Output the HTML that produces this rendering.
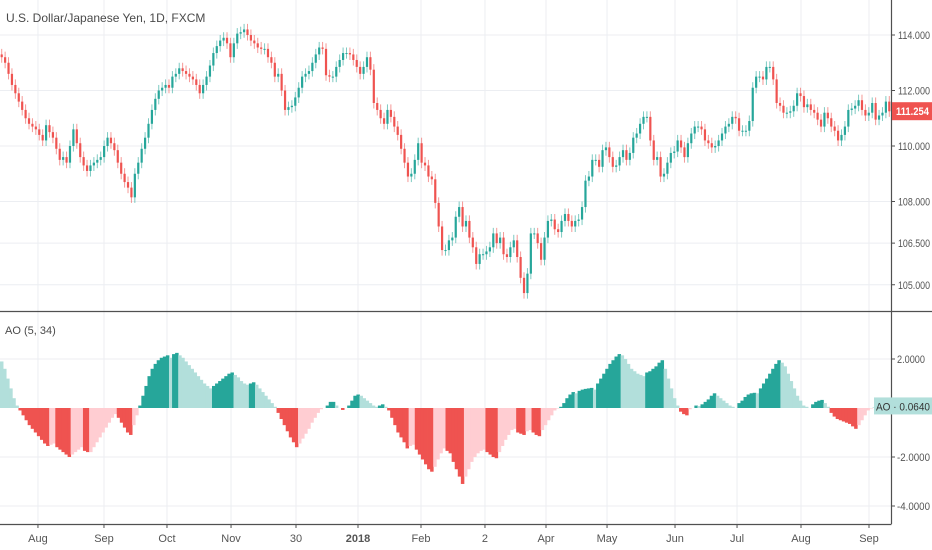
<!DOCTYPE html>
<html><head><meta charset="utf-8"><style>
html,body{margin:0;padding:0;background:#fff;width:932px;height:550px;overflow:hidden;font-family:"Liberation Sans",sans-serif}
svg{display:block}
text{font-family:"Liberation Sans",sans-serif}
</style></head><body>
<svg id="chart" width="932" height="550" viewBox="0 0 932 550" xmlns="http://www.w3.org/2000/svg">
<g id="grid"></g>
<g id="candles"></g>
<g id="ao"></g>
<g id="axes"></g>
<text x="6" y="22" font-size="12" fill="#4a4a4a">U.S. Dollar/Japanese Yen, 1D, FXCM</text>
<text x="5" y="334" font-size="11" fill="#4a4a4a">AO (5, 34)</text>
</svg>
<script>
const closes=[113.2,113.0,112.6,112.2,111.9,111.6,111.3,111.0,110.8,110.7,110.6,110.4,110.2,110.75,110.5,110.3,109.9,109.5,109.6,109.4,110.0,110.6,110.1,109.6,109.3,109.1,109.3,109.4,109.5,109.6,110.0,110.3,110.1,109.85,109.4,109.0,108.7,108.5,108.15,109.0,109.4,109.9,110.3,110.8,111.3,111.7,112.0,112.1,112.2,112.1,112.5,112.6,112.8,112.7,112.6,112.5,112.4,112.2,111.9,112.2,112.5,112.9,113.35,113.6,113.8,113.9,113.7,
113.2,113.7,114.05,114.1,114.2,114.0,113.8,113.7,113.55,113.5,113.5,113.2,113.0,112.5,112.6,112.0,111.3,111.4,111.45,111.75,112.1,112.5,112.6,112.7,113.0,113.3,113.55,113.5,112.55,112.5,112.5,112.85,113.1,113.35,113.35,113.3,113.1,112.85,112.6,112.85,113.2,112.75,111.55,111.3,111.0,110.8,111.3,111.05,110.7,110.4,109.9,109.4,108.9,109.0,109.5,110.1,109.4,109.3,108.9,108.8,107.95,
107.1,106.25,106.25,106.6,106.7,107.45,107.8,107.1,107.3,106.7,106.35,105.75,106.1,106.1,106.2,106.35,106.85,106.5,106.7,106.1,106.0,106.35,106.6,106.0,105.25,104.7,105.4,106.85,106.85,106.5,105.9,106.7,107.3,107.35,107.0,106.9,107.3,107.55,107.3,107.1,107.3,107.35,107.8,108.75,108.9,109.5,109.5,109.25,109.85,109.95,109.6,109.25,109.3,109.6,109.85,109.5,109.75,110.3,110.45,110.8,111.05,111.05,110.2,109.5,109.6,108.9,109.0,109.4,109.75,109.8,110.2,109.95,109.6,110.1,110.45,110.7,110.7,110.6,110.2,110.1,109.95,110.0,110.2,110.45,110.7,110.8,111.05,111.0,110.55,110.55,110.55,110.9,112.1,112.5,112.5,112.4,112.85,112.85,112.4,111.55,111.45,111.2,111.2,111.25,111.45,111.9,111.8,111.4,111.5,111.3,111.2,110.95,110.7,111.2,111.0,110.7,110.55,110.2,110.4,110.7,111.3,111.35,111.45,111.65,111.3,111.1,111.2,111.55,110.95,111.1,111.2,111.6,111.25];
const aoValues=[1.9,1.6,1.2,0.8,0.4,0.1,-0.1,-0.3,-0.5,-0.7,-0.85,-1.0,-1.15,-1.3,-1.45,-1.55,-1.5,-1.45,-1.6,-1.7,-1.8,-1.9,-2.0,-1.9,-1.8,-1.7,-1.6,-1.75,-1.8,-1.8,-1.6,-1.4,-1.2,-1.0,-0.8,-0.6,-0.4,-0.25,-0.4,-0.6,-0.8,-1.0,-1.1,-0.7,-0.3,0.1,0.5,0.9,1.3,1.6,1.8,1.95,2.05,2.1,2.15,2.05,2.2,2.25,2.15,2.05,1.9,1.75,1.6,1.45,1.3,1.15,1.0,0.9,0.8,0.9,1.0,1.1,1.2,1.3,1.4,1.45,1.35,1.25,1.1,1.0,0.95,1.0,1.05,0.95,0.8,0.65,0.5,0.35,0.2,0.05,-0.2,-0.45,-0.7,-0.95,-1.2,-1.4,-1.6,-1.45,-1.25,-1.05,-0.85,-0.6,-0.4,-0.2,-0.05,0,0.1,0.25,0.25,0.1,0,-0.08,0,0.1,0.3,0.5,0.55,0.5,0.4,0.3,0.2,0.1,0.05,0.1,0.15,0.05,-0.1,-0.4,-0.7,-1.0,-1.2,-1.4,-1.65,-1.55,-1.5,-1.7,-1.9,-2.1,-2.3,-2.5,-2.6,-2.4,-2.1,-1.85,-1.65,-1.75,-1.85,-2.2,-2.5,-2.8,-3.1,-2.8,-2.5,-2.2,-2.0,-1.85,-1.75,-1.7,-1.8,-1.9,-2.0,-2.05,-1.8,-1.55,-1.3,-1.1,-0.9,-0.85,-1.0,-1.05,-1.1,-0.95,-0.9,-1.0,-1.1,-1.15,-0.9,-0.7,-0.5,-0.3,-0.1,-0.02,0.05,0.2,0.4,0.55,0.65,0.6,0.7,0.75,0.78,0.8,0.82,0.75,1.0,1.2,1.4,1.6,1.8,1.95,2.1,2.2,2.15,2.0,1.8,1.6,1.5,1.4,1.35,1.3,1.45,1.5,1.6,1.7,1.85,1.95,1.6,1.2,0.8,0.4,0.1,-0.15,-0.25,-0.3,-0.05,0,0.1,0.08,0.15,0.25,0.35,0.5,0.6,0.5,0.4,0.3,0.2,0.1,0.05,0,0.2,0.3,0.45,0.55,0.6,0.62,0.6,0.8,1.0,1.2,1.4,1.6,1.8,1.95,1.85,1.7,1.4,1.1,0.8,0.5,0.3,0.1,0.05,0,0.15,0.25,0.3,0.33,0.2,0.05,-0.2,-0.35,-0.45,-0.5,-0.55,-0.6,-0.65,-0.75,-0.85,-0.7,-0.5,-0.3,-0.1,-0.02,0.01,0.02,0.05,0.03,0.06,0.064];
const priceTicks=[114,112,110,108,106.5,105];
const priceTickLabels=["114.000","112.000","110.000","108.000","106.500","105.000"];
const aoTicks=[2,-2,-4];
const aoTickLabels=["2.0000","-2.0000","-4.0000"];
const dateLabels=["Aug","Sep","Oct","Nov","30","2018","Feb","2","Apr","May","Jun","Jul","Aug","Sep"];
const dateFrac=[0.0426,0.1167,0.1874,0.2593,0.3322,0.4018,0.4725,0.5443,0.6128,0.6813,0.7576,0.8272,0.8990,0.9753];
const lastPrice=111.254, lastAO=0.0640;

const NS="http://www.w3.org/2000/svg";
const PW=891;
const py=p=>35+(114-p)*27.75;
const ay=v=>408-v*24.5;
function mk(tag,attrs,parent){const e=document.createElementNS(NS,tag);for(const k in attrs)e.setAttribute(k,attrs[k]);parent.appendChild(e);return e;}
const grid=document.getElementById('grid'),cg=document.getElementById('candles'),ag=document.getElementById('ao'),ax=document.getElementById('axes');
priceTicks.forEach(t=>{const l=mk('line',{x1:0,x2:PW,y1:py(t),y2:py(t),stroke:'#eceef2','stroke-width':1},grid);

});
aoTicks.forEach(t=>{const l=mk('line',{x1:0,x2:PW,y1:ay(t),y2:ay(t),stroke:'#eceef2','stroke-width':1},grid);

});
dateFrac.forEach(f=>{const x=f*PW;const l=mk('line',{x1:x,x2:x,y1:0,y2:524,stroke:'#eceef2','stroke-width':1},grid);

});
const step=PW/closes.length;
closes.forEach((c,i)=>{const o=i?closes[i-1]:c+0.1;const up=c>=o;const col=up?'#26a69a':'#ef5350';
const x=i*step+step/2;const hi=Math.max(o,c)+0.2,lo=Math.min(o,c)-0.2;
const w=mk('line',{x1:x,x2:x,y1:py(hi),y2:py(lo),stroke:col,'stroke-opacity':0.6,'stroke-width':1},cg);


const top=py(Math.max(o,c)),h=Math.max(1,py(Math.min(o,c))-top);
const b=mk('rect',{x:x-1.1,y:top,width:2.2,height:h,fill:col},cg);

});
const as=PW/aoValues.length;
aoValues.forEach((v,i)=>{const prev=i?aoValues[i-1]:v+0.1;const rising=v>=prev;
let col;if(v>=0)col=rising?'#26a69a':'#b2dfdb';else col=rising?'#ffcdd2':'#ef5350';
const y0=ay(0),y1=ay(v);
const r=mk('rect',{x:i*as,y:Math.min(y0,y1),width:as+0.4,height:Math.abs(y1-y0),fill:col},ag);

});
mk('line',{x1:0,x2:932,y1:311.5,y2:311.5,stroke:'#505050','stroke-width':1.2},ax);
mk('line',{x1:891.5,x2:891.5,y1:0,y2:524,stroke:'#505050','stroke-width':1.2},ax);
mk('line',{x1:0,x2:891.5,y1:524.5,y2:524.5,stroke:'#505050','stroke-width':1.2},ax);
priceTicks.forEach((t,i)=>{mk('line',{x1:891,x2:895,y1:py(t),y2:py(t),stroke:'#505050'},ax);
const tx=mk('text',{x:898,y:py(t)+4,'font-size':11,fill:'#555',textLength:32,lengthAdjust:'spacingAndGlyphs'},ax);tx.textContent=priceTickLabels[i];

});
aoTicks.forEach((t,i)=>{mk('line',{x1:891,x2:895,y1:ay(t),y2:ay(t),stroke:'#505050'},ax);
const tx=mk('text',{x:897,y:ay(t)+4,'font-size':11,fill:'#555',textLength:(aoTickLabels[i].length>6?33:28),lengthAdjust:'spacingAndGlyphs'},ax);tx.textContent=aoTickLabels[i];

});
dateLabels.forEach((d,i)=>{const x=dateFrac[i]*PW;mk('line',{x1:x,x2:x,y1:524,y2:528,stroke:'#505050'},ax);
const tx=mk('text',{x:x,y:542,'font-size':11,fill:'#555','text-anchor':'middle','font-weight':d==='2018'?'bold':'normal'},ax);tx.textContent=d;

});
const lp=py(lastPrice);
const lpr=mk('rect',{x:892,y:lp-9,width:40,height:18,fill:'#ef5350'},ax);


const lpt=mk('text',{x:896,y:lp+4,'font-size':11,fill:'#fff','font-weight':'bold',textLength:33,lengthAdjust:'spacingAndGlyphs'},ax);lpt.textContent=lastPrice.toFixed(3);


const la=ay(lastAO);
const lar=mk('rect',{x:874,y:la-9,width:58,height:17,fill:'#b2dfdb'},ax);


const lat=mk('text',{x:876,y:la+4,'font-size':11,fill:'#333',textLength:54,lengthAdjust:'spacingAndGlyphs'},ax);lat.textContent='AO · '+lastAO.toFixed(4);


</script>
</body></html>
